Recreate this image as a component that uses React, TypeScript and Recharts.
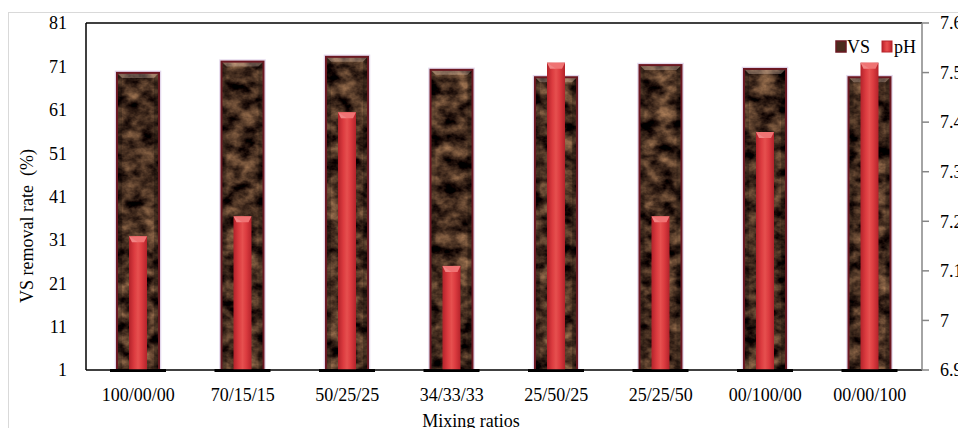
import {
  ComposedChart,
  Bar,
  XAxis,
  YAxis,
  ReferenceLine,
  Legend,
} from "recharts";

const ratios = ["100/00/00", "70/15/15", "50/25/25", "34/33/33", "25/50/25", "25/25/50", "00/100/00", "00/00/100"];
const vsRemoval = [69.5, 72.1, 73.2, 70.2, 68.5, 71.3, 70.4, 68.5];
const phValues = [7.17, 7.21, 7.42, 7.11, 7.52, 7.21, 7.38, 7.52];
const vsTicks = [1, 11, 21, 31, 41, 51, 61, 71, 81];
const phTicks = [6.9, 7, 7.1, 7.2, 7.3, 7.4, 7.5, 7.6];

const data = ratios.map((ratio, i) => ({ ratio, vs: vsRemoval[i], ph: phValues[i] }));

const FONT = "'Liberation Serif', 'Times New Roman', serif";
const tickStyle = { fill: "#000", fontSize: 18, fontFamily: FONT };

// marble-textured VS column with bevelled top and a dark floor strip
function VsBar(props: any) {
  const { x, y, width, height } = props;
  if (!height || height <= 0) return null;
  const cx = x + width / 2;
  const base = y + height;
  const b = 5;
  return (
    <g>
      <rect x={x - 1.5} y={y - 1.5} width={width + 3} height={height + 1.5} fill="none" stroke="rgba(175,140,200,0.35)" strokeWidth={1.5} />
      <rect x={x} y={y} width={width} height={height} fill="#000" filter="url(#marble)" />
      <polygon points={`${x},${y} ${x + width},${y} ${x + width - b},${y + b} ${x + b},${y + b}`} fill="rgba(255,225,205,0.3)" />
      <polygon points={`${x},${y} ${x + b},${y + b} ${x + b},${base} ${x},${base}`} fill="rgba(0,0,0,0.2)" />
      <polygon points={`${x + width},${y} ${x + width - b},${y + b} ${x + width - b},${base} ${x + width},${base}`} fill="rgba(0,0,0,0.25)" />
      <rect x={x} y={y} width={width} height={height} fill="none" stroke="#6b1822" strokeWidth={2} />
      <rect x={cx - 28} y={base - 1} width={56} height={3} fill="#000" />
    </g>
  );
}

// red pH column with a lighter pointed cap
function PhBar(props: any) {
  const { x, y, width, height } = props;
  if (!height || height <= 0) return null;
  const cx = x + width / 2;
  return (
    <g>
      <rect x={x} y={y} width={width} height={height} fill="url(#phGrad)" />
      <polygon points={`${x},${y} ${x + width},${y} ${x + width - 3},${y + 6} ${x + 3},${y + 6}`} fill="#ef7373" />
      <polygon points={`${x + 3},${y + 6} ${cx},${y + 6} ${x},${y}`} fill="rgba(255,255,255,0.12)" />
    </g>
  );
}

// right-axis labels, left aligned and vertically centred on the tick
function PhTick(props: any) {
  const { x, y, payload } = props;
  return (
    <text x={x} y={y} dy="0.35em" textAnchor="start" style={tickStyle}>
      {String(payload.value)}
    </text>
  );
}

function LegendContent() {
  return (
    <svg width={100} height={22} style={{ overflow: "visible" }}>
      <rect x={0} y={5} width={10} height={11} fill="#4a2c1e" stroke="#6b1822" strokeWidth={1.5} />
      <text x={11} y={17} style={tickStyle}>VS</text>
      <rect x={46} y={5} width={10} height={11} fill="url(#phGrad)" stroke="#b8252c" strokeWidth={1} />
      <text x={58} y={17} style={tickStyle}>pH</text>
    </svg>
  );
}

export default function App() {
  return (
    <div style={{ position: "relative", width: 958, height: 428, marginBottom: -8 }}>
      <style>{".recharts-surface { overflow: visible; }"}</style>
      <div
        style={{
          position: "absolute",
          left: 0,
          top: 4,
          width: 958,
          height: 424,
          borderTop: "1px solid #d9d9d9",
          borderLeft: "1px solid #d9d9d9",
          boxSizing: "border-box",
        }}
      />
      <ComposedChart
        width={958}
        height={428}
        data={data}
        margin={{ top: 15, right: 4, left: 18, bottom: 36 }}
        style={{ position: "absolute", left: 0, top: 0 }}
      >
        <defs>
          <filter id="marble" x="0" y="0" width="100%" height="100%" colorInterpolationFilters="sRGB">
            <feTurbulence type="fractalNoise" baseFrequency="0.06 0.08" numOctaves={4} seed={7} result="noise" />
            <feColorMatrix
              in="noise"
              type="matrix"
              values="1.0 0 0 0 -0.23  0.78 0 0 0 -0.21  0.55 0 0 0 -0.15  0 0 0 0 1"
              result="col"
            />
            <feComposite in="col" in2="SourceGraphic" operator="in" />
          </filter>
          <linearGradient id="phGrad" x1="0" y1="0" x2="1" y2="0">
            <stop offset="0" stopColor="#b3222a" />
            <stop offset="0.3" stopColor="#dc3c40" />
            <stop offset="0.5" stopColor="#e6504f" />
            <stop offset="0.7" stopColor="#dc3c40" />
            <stop offset="1" stopColor="#b3222a" />
          </linearGradient>
        </defs>
        <XAxis
          xAxisId="vs"
          dataKey="ratio"
          height={30}
          axisLine={{ stroke: "#000", strokeWidth: 1.5 }}
          tickLine={false}
          tickSize={6}
          tickMargin={12}
          tick={tickStyle}
          interval={0}
          label={{
            content: ({ viewBox }: any) => (
              <text x={viewBox.x + viewBox.width / 2 - 33} y={viewBox.y + 57} textAnchor="middle" style={tickStyle}>
                Mixing ratios
              </text>
            ),
          }}
        />
        <XAxis xAxisId="ph" dataKey="ratio" orientation="top" height={0} hide />
        <YAxis
          yAxisId="vs"
          domain={[1, 81]}
          ticks={vsTicks}
          width={60}
          axisLine={{ stroke: "#000", strokeWidth: 1.5 }}
          tickLine={false}
          tickSize={6}
          tickMargin={13}
          tick={tickStyle}
          label={{
            content: () => (
              <text x={25} y={218} transform="rotate(-90 25 218)" textAnchor="middle" style={tickStyle}>
                {"VS removal rate\u00a0 (%)"}
              </text>
            ),
          }}
        />
        <YAxis
          yAxisId="ph"
          orientation="right"
          domain={[6.9, 7.6]}
          ticks={phTicks}
          width={40}
          axisLine={{ stroke: "#868686", strokeWidth: 1.5 }}
          tickLine={{ stroke: "#868686", strokeWidth: 1.5 }}
          tickSize={7}
          tickMargin={11}
          tick={<PhTick />}
        />
        <ReferenceLine yAxisId="vs" xAxisId="vs" y={81} stroke="#000" strokeWidth={1.5} />
        <Legend
          layout="horizontal"
          verticalAlign="middle"
          align="center"
          content={<LegendContent />}
          wrapperStyle={{ top: 28, left: 828, width: 100, height: 22 }}
        />
        <Bar xAxisId="vs" yAxisId="vs" dataKey="vs" name="VS" barSize={42} shape={<VsBar />} isAnimationActive={false} />
        <Bar xAxisId="ph" yAxisId="ph" dataKey="ph" name="pH" barSize={18} shape={<PhBar />} isAnimationActive={false} />
      </ComposedChart>
    </div>
  );
}
